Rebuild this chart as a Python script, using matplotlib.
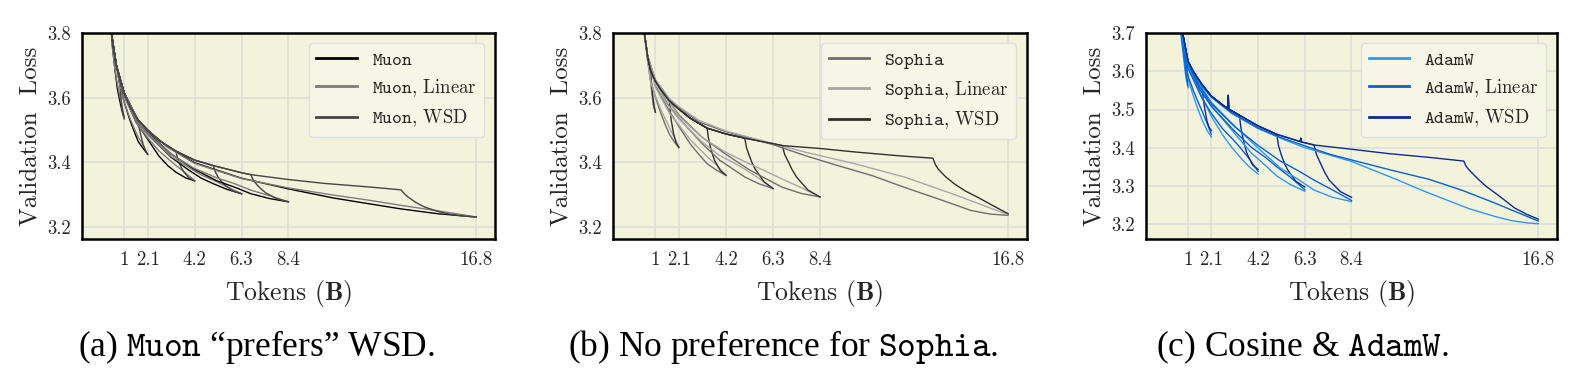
import matplotlib
matplotlib.use("Agg")
import matplotlib.pyplot as plt
from matplotlib.lines import Line2D

plt.rcParams["font.family"] = "cmr10"
plt.rcParams["mathtext.fontset"] = "cm"
plt.rcParams["axes.formatter.use_mathtext"] = True

# tokens (B) and the runs' lengths
run_lengths = [1.05, 2.1, 4.2, 6.3, 8.4, 16.8]
tick_labels = ["1", "2.1", "4.2", "6.3", "8.4", "16.8"]

# ---------------- Muon ----------------
# constant-LR part shared by the WSD runs
muon_trunk = [(0.35, 4.00), (0.48, 3.80), (0.60, 3.742), (0.70, 3.70), (0.84, 3.665), (1.05, 3.615),
              (1.30, 3.575), (1.68, 3.530), (2.10, 3.500), (2.60, 3.468), (3.36, 3.435), (4.20, 3.407),
              (5.04, 3.390), (6.30, 3.368), (6.72, 3.362), (8.40, 3.347), (10.0, 3.335), (12.0, 3.324),
              (13.44, 3.315)]
muon_wsd_tail = [
    [(0.84, 3.665), (0.88, 3.620), (0.92, 3.590), (0.97, 3.563), (1.05, 3.540)],
    [(1.68, 3.530), (1.73, 3.505), (1.78, 3.488), (1.90, 3.455), (2.00, 3.437), (2.10, 3.425)],
    [(3.36, 3.435), (3.43, 3.415), (3.50, 3.400), (3.60, 3.385), (3.70, 3.372), (3.95, 3.352), (4.20, 3.343)],
    [(5.04, 3.390), (5.13, 3.370), (5.25, 3.355), (5.40, 3.341), (5.55, 3.330), (5.90, 3.312), (6.30, 3.303)],
    [(6.72, 3.362), (6.82, 3.346), (7.00, 3.330), (7.20, 3.316), (7.40, 3.305), (7.90, 3.287), (8.40, 3.278)],
    [(13.44, 3.315), (13.60, 3.302), (13.75, 3.293), (14.10, 3.276), (14.49, 3.262), (15.00, 3.250),
     (15.52, 3.241), (16.10, 3.235), (16.80, 3.231)],
]
muon_cosine = [
    [(0.35, 4.0), (0.50, 3.775), (0.63, 3.690), (0.74, 3.630), (0.84, 3.595), (0.95, 3.560), (1.05, 3.535)],
    [(0.35, 4.0), (0.50, 3.785), (0.84, 3.646), (1.05, 3.587), (1.30, 3.532), (1.50, 3.495), (1.68, 3.464),
     (1.90, 3.443), (2.10, 3.425)],
    [(0.35, 4.0), (0.48, 3.80), (0.70, 3.70), (1.05, 3.607), (1.58, 3.525), (2.10, 3.472), (2.60, 3.420),
     (3.00, 3.390), (3.36, 3.370), (3.80, 3.352), (4.20, 3.343)],
    [(0.35, 4.0), (0.48, 3.80), (0.70, 3.70), (1.05, 3.615), (1.58, 3.532), (2.10, 3.487), (3.15, 3.416),
     (3.90, 3.378), (4.50, 3.351), (5.04, 3.334), (5.67, 3.316), (6.30, 3.303)],
    [(0.35, 4.0), (0.48, 3.80), (0.70, 3.70), (1.05, 3.615), (1.58, 3.540), (2.10, 3.492), (3.15, 3.426),
     (4.20, 3.378), (5.20, 3.343), (6.00, 3.323), (6.72, 3.303), (7.56, 3.288), (8.40, 3.278)],
    [(0.35, 4.0), (0.48, 3.80), (0.70, 3.70), (1.05, 3.615), (1.68, 3.530), (2.10, 3.500), (3.00, 3.448),
     (4.20, 3.399), (6.30, 3.351), (8.40, 3.318), (10.4, 3.290), (12.0, 3.272), (13.44, 3.256),
     (15.1, 3.241), (16.8, 3.231)],
]
muon_linear = [
    [(0.35, 4.0), (0.50, 3.770), (0.63, 3.692), (0.74, 3.644), (0.84, 3.610), (0.95, 3.574), (1.05, 3.535)],
    [(0.35, 4.0), (0.50, 3.779), (0.84, 3.642), (1.05, 3.586), (1.30, 3.538), (1.50, 3.505), (1.68, 3.478),
     (1.90, 3.453), (2.10, 3.425)],
    [(0.35, 4.0), (0.48, 3.80), (0.70, 3.70), (1.05, 3.605), (1.58, 3.523), (2.10, 3.476), (2.60, 3.436),
     (3.00, 3.412), (3.36, 3.391), (3.80, 3.367), (4.20, 3.343)],
    [(0.35, 4.0), (0.48, 3.80), (0.70, 3.70), (1.05, 3.612), (1.58, 3.530), (2.10, 3.486), (3.15, 3.418),
     (3.90, 3.386), (4.50, 3.361), (5.04, 3.345), (5.67, 3.324), (6.30, 3.303)],
    [(0.35, 4.0), (0.48, 3.80), (0.70, 3.70), (1.05, 3.613), (1.58, 3.535), (2.10, 3.490), (3.15, 3.425),
     (4.20, 3.381), (5.20, 3.352), (6.00, 3.334), (6.72, 3.314), (7.56, 3.297), (8.40, 3.278)],
    [(0.35, 4.0), (0.48, 3.80), (0.70, 3.70), (1.05, 3.615), (1.68, 3.530), (2.10, 3.500), (3.00, 3.446),
     (4.20, 3.397), (6.30, 3.350), (8.40, 3.321), (10.4, 3.299), (12.0, 3.283), (13.44, 3.267),
     (15.1, 3.250), (16.8, 3.231)],
]

# ---------------- Sophia ----------------
sophia_trunk = [(0.40, 4.00), (0.56, 3.80), (0.70, 3.73), (0.84, 3.685), (1.05, 3.652), (1.30, 3.625),
                (1.68, 3.590), (2.10, 3.565), (2.60, 3.537), (3.36, 3.506), (4.20, 3.488), (5.04, 3.475),
                (6.30, 3.458), (6.72, 3.452), (8.40, 3.443), (10.0, 3.432), (12.0, 3.420), (13.44, 3.413)]
sophia_wsd_tail = [
    [(0.84, 3.685), (0.87, 3.650), (0.90, 3.625), (0.96, 3.590), (1.00, 3.570), (1.05, 3.555)],
    [(1.68, 3.590), (1.72, 3.555), (1.76, 3.530), (1.86, 3.490), (1.98, 3.460), (2.10, 3.446)],
    [(3.36, 3.506), (3.42, 3.475), (3.50, 3.450), (3.60, 3.425), (3.70, 3.405), (3.95, 3.375), (4.20, 3.360)],
    [(5.04, 3.475), (5.12, 3.445), (5.25, 3.420), (5.37, 3.398), (5.50, 3.380), (5.90, 3.340), (6.30, 3.319)],
    [(6.72, 3.452), (6.82, 3.425), (7.00, 3.400), (7.15, 3.378), (7.35, 3.355), (7.85, 3.315), (8.40, 3.293)],
    [(13.44, 3.413), (13.55, 3.393), (13.68, 3.379), (14.00, 3.356), (14.41, 3.333), (14.90, 3.311),
     (15.44, 3.292), (16.10, 3.267), (16.80, 3.241)],
]
sophia_cosine = [
    [(0.40, 4.0), (0.56, 3.80), (0.70, 3.72), (0.84, 3.65), (0.95, 3.58), (1.05, 3.555)],
    [(0.40, 4.0), (0.56, 3.80), (0.84, 3.655), (1.05, 3.602), (1.30, 3.551), (1.50, 3.515), (1.68, 3.487),
     (1.90, 3.463), (2.10, 3.446)],
    [(0.40, 4.0), (0.56, 3.80), (0.70, 3.73), (1.05, 3.637), (1.68, 3.558), (2.10, 3.511), (2.60, 3.458),
     (3.00, 3.424), (3.36, 3.396), (3.80, 3.375), (4.20, 3.360)],
    [(0.40, 4.0), (0.56, 3.80), (0.70, 3.73), (1.05, 3.652), (1.58, 3.583), (2.10, 3.537), (3.15, 3.457),
     (3.90, 3.408), (4.50, 3.380), (5.04, 3.355), (5.67, 3.334), (6.30, 3.319)],
    [(0.40, 4.0), (0.56, 3.80), (0.70, 3.73), (1.05, 3.652), (1.58, 3.597), (2.10, 3.547), (3.15, 3.477),
     (4.20, 3.425), (5.20, 3.379), (6.00, 3.349), (6.72, 3.323), (7.56, 3.304), (8.40, 3.293)],
    [(0.40, 4.0), (0.56, 3.80), (0.70, 3.73), (1.05, 3.655), (1.68, 3.595), (2.10, 3.570), (3.00, 3.525),
     (4.20, 3.495), (6.30, 3.455), (7.78, 3.420), (9.20, 3.390), (10.73, 3.359), (12.2, 3.322),
     (13.68, 3.287), (15.15, 3.251), (16.0, 3.240), (16.8, 3.236)],
]
sophia_linear = [
    [(0.40, 4.0), (0.56, 3.79), (0.70, 3.715), (0.84, 3.652), (0.95, 3.597), (1.05, 3.555)],
    [(0.40, 4.0), (0.56, 3.80), (0.84, 3.649), (1.05, 3.606), (1.30, 3.563), (1.50, 3.533), (1.68, 3.507),
     (1.90, 3.477), (2.10, 3.446)],
    [(0.40, 4.0), (0.56, 3.80), (0.70, 3.73), (1.05, 3.633), (1.68, 3.552), (2.10, 3.516), (2.60, 3.471),
     (3.00, 3.443), (3.36, 3.418), (3.80, 3.391), (4.20, 3.360)],
    [(0.40, 4.0), (0.56, 3.80), (0.70, 3.73), (1.05, 3.650), (1.58, 3.579), (2.10, 3.535), (3.15, 3.462),
     (3.90, 3.422), (4.50, 3.401), (5.04, 3.379), (5.67, 3.351), (6.30, 3.319)],
    [(0.40, 4.0), (0.56, 3.80), (0.70, 3.73), (1.05, 3.652), (1.58, 3.597), (2.10, 3.543), (3.15, 3.476),
     (4.20, 3.431), (5.20, 3.397), (6.00, 3.372), (6.72, 3.348), (7.56, 3.322), (8.40, 3.293)],
    [(0.40, 4.0), (0.56, 3.80), (0.70, 3.73), (1.05, 3.656), (1.68, 3.597), (2.10, 3.572), (3.00, 3.530),
     (4.20, 3.497), (6.30, 3.458), (7.78, 3.431), (10.0, 3.395), (12.2, 3.354), (14.5, 3.298),
     (16.8, 3.238)],
]

# ---------------- AdamW ----------------
adamw_trunk = [(0.60, 3.95), (0.80, 3.70), (0.84, 3.69), (1.05, 3.626), (1.30, 3.598), (1.68, 3.565),
               (2.10, 3.535), (2.60, 3.512), (2.84, 3.503), (2.86, 3.537), (2.88, 3.501), (3.36, 3.485),
               (4.20, 3.457), (5.04, 3.435), (6.10, 3.416), (6.12, 3.425), (6.14, 3.415), (6.30, 3.413),
               (6.72, 3.407), (8.40, 3.396), (10.0, 3.385), (12.0, 3.374), (13.45, 3.365)]
adamw_wsd_tail = [
    [(0.84, 3.690), (0.92, 3.655), (0.95, 3.630), (0.98, 3.610), (1.05, 3.575)],
    [(1.68, 3.565), (1.72, 3.535), (1.78, 3.510), (1.90, 3.470), (2.00, 3.453), (2.10, 3.445)],
    [(3.36, 3.485), (3.42, 3.455), (3.50, 3.430), (3.60, 3.405), (3.70, 3.385), (3.95, 3.355), (4.20, 3.343)],
    [(5.04, 3.435), (5.12, 3.405), (5.25, 3.380), (5.40, 3.357), (5.55, 3.340), (5.90, 3.312), (6.30, 3.297)],
    [(6.72, 3.407), (6.82, 3.383), (7.00, 3.360), (7.20, 3.335), (7.40, 3.315), (7.90, 3.285), (8.40, 3.270)],
    [(13.45, 3.365), (13.55, 3.352), (13.67, 3.343), (13.90, 3.329), (14.11, 3.317), (14.45, 3.299),
     (14.85, 3.282), (15.30, 3.262), (15.74, 3.242), (16.30, 3.225), (16.80, 3.213)],
]
adamw_cosine = [
    [(0.60, 3.88), (0.72, 3.70), (0.84, 3.640), (0.95, 3.585), (1.05, 3.557)],
    [(0.60, 3.92), (0.78, 3.70), (0.84, 3.663), (1.05, 3.581), (1.30, 3.534), (1.50, 3.500), (1.68, 3.473),
     (1.90, 3.446), (2.10, 3.428)],
    [(0.60, 3.93), (0.79, 3.70), (1.05, 3.611), (1.68, 3.533), (2.10, 3.482), (2.60, 3.434), (3.00, 3.402),
     (3.36, 3.377), (3.80, 3.350), (4.20, 3.331)],
    [(0.60, 3.93), (0.79, 3.70), (1.05, 3.622), (1.58, 3.555), (2.10, 3.510), (3.15, 3.437), (3.90, 3.386),
     (4.50, 3.355), (5.04, 3.326), (5.67, 3.303), (6.30, 3.286)],
    [(0.60, 3.93), (0.79, 3.70), (1.05, 3.624), (1.58, 3.565), (2.10, 3.519), (3.15, 3.456), (4.20, 3.399),
     (5.20, 3.347), (6.00, 3.317), (6.72, 3.289), (7.56, 3.270), (8.40, 3.259)],
    [(0.60, 3.93), (0.75, 3.70), (1.05, 3.622), (1.68, 3.560), (2.10, 3.532), (3.00, 3.490), (4.20, 3.450),
     (5.50, 3.418), (6.30, 3.400), (7.47, 3.380), (8.40, 3.364), (10.42, 3.317), (11.5, 3.290),
     (12.64, 3.264), (13.7, 3.240), (14.85, 3.220), (15.6, 3.209), (16.33, 3.203), (16.8, 3.201)],
]
adamw_linear = [
    [(0.60, 3.90), (0.74, 3.70), (0.84, 3.655), (0.95, 3.600), (1.05, 3.562)],
    [(0.60, 3.92), (0.78, 3.70), (0.84, 3.660), (1.05, 3.588), (1.30, 3.548), (1.50, 3.520), (1.68, 3.496),
     (1.90, 3.465), (2.10, 3.435)],
    [(0.60, 3.93), (0.79, 3.70), (1.05, 3.608), (1.68, 3.529), (2.10, 3.490), (2.60, 3.450), (3.00, 3.426),
     (3.36, 3.403), (3.80, 3.371), (4.20, 3.338)],
    [(0.60, 3.93), (0.79, 3.70), (1.05, 3.620), (1.58, 3.552), (2.10, 3.508), (3.15, 3.443), (3.90, 3.401),
     (4.50, 3.376), (5.04, 3.350), (5.67, 3.322), (6.30, 3.290)],
    [(0.60, 3.93), (0.79, 3.70), (1.05, 3.622), (1.58, 3.560), (2.10, 3.515), (3.15, 3.455), (4.20, 3.406),
     (5.20, 3.365), (6.00, 3.340), (6.72, 3.315), (7.56, 3.289), (8.40, 3.262)],
    [(0.60, 3.90), (0.77, 3.70), (1.05, 3.624), (1.68, 3.562), (2.10, 3.533), (3.00, 3.492), (4.20, 3.452),
     (5.20, 3.427), (6.30, 3.405), (7.47, 3.382), (8.40, 3.368), (10.0, 3.344), (11.9, 3.317),
     (13.4, 3.288), (14.85, 3.255), (15.8, 3.232), (16.8, 3.208)],
]

TEXT = "#262626"
BG = "#f3f3dc"


def draw_panel(ax, name, trunk, cosine, linear, wsd_tail, colors, ylim, yticks):
    for cos_run, lin_run, tail in zip(cosine, linear, wsd_tail):
        ax.plot(*zip(*cos_run), color=colors[0], lw=1.0)
        ax.plot(*zip(*lin_run), color=colors[1], lw=1.0)
        wsd_run = [p for p in trunk if p[0] < tail[0][0]] + tail
        ax.plot(*zip(*wsd_run), color=colors[2], lw=1.0)

    ax.set_facecolor(BG)
    ax.set_xlim(-0.84, 17.64)
    ax.set_ylim(*ylim)
    ax.set_xticks(run_lengths)
    ax.set_xticklabels(tick_labels)
    ax.set_yticks(yticks)
    ax.set_yticklabels(["%.1f" % t for t in yticks])
    ax.grid(True, color="#dcdcdc", lw=1.1)
    ax.set_axisbelow(True)
    ax.tick_params(length=0, labelsize=13.5, colors=TEXT)
    ax.tick_params(axis="x", pad=9)
    ax.tick_params(axis="y", pad=8)
    for s in ax.spines.values():
        s.set_linewidth(1.8)
        s.set_color("black")
    ax.set_xlabel(r"Tokens ($\mathbf{B}$)", fontsize=18.5, color=TEXT, labelpad=6)
    ax.set_ylabel("Validation  Loss", fontsize=18, color=TEXT, labelpad=4)

    tt = r"$\mathtt{%s}$" % name
    handles = [Line2D([], [], color=colors[0], lw=2),
               Line2D([], [], color=colors[1], lw=2),
               Line2D([], [], color=colors[2], lw=2)]
    labels = [tt, tt + ", Linear", tt + ", WSD"]
    leg = ax.legend(handles, labels, loc="upper right", fontsize=13.5, frameon=True,
                    fancybox=True, framealpha=1.0, facecolor="#f6f6e6", edgecolor="#dedede",
                    handlelength=2.15, labelspacing=0.45, borderpad=0.4, borderaxespad=0,
                    bbox_to_anchor=(0.973, 0.951))
    for t in leg.get_texts():
        t.set_color(TEXT)


fig = plt.figure(figsize=(15.91, 3.75), dpi=100)
ax1 = fig.add_axes([0.0515, 0.3627, 0.2596, 0.549])
ax2 = fig.add_axes([0.3853, 0.3627, 0.2602, 0.549])
ax3 = fig.add_axes([0.7203, 0.3627, 0.2583, 0.549])

draw_panel(ax1, "Muon", muon_trunk, muon_cosine, muon_linear, muon_wsd_tail,
           ["#000000", "#7c7c7c", "#454545"], (3.163, 3.8), [3.2, 3.4, 3.6, 3.8])
draw_panel(ax2, "Sophia", sophia_trunk, sophia_cosine, sophia_linear, sophia_wsd_tail,
           ["#6e6e6e", "#a6a6a6", "#303030"], (3.163, 3.8), [3.2, 3.4, 3.6, 3.8])
draw_panel(ax3, "AdamW", adamw_trunk, adamw_cosine, adamw_linear, adamw_wsd_tail,
           ["#2f98ee", "#0862cc", "#0c2c8e"], (3.161, 3.7), [3.2, 3.3, 3.4, 3.5, 3.6, 3.7])

cap = dict(fontsize=25.5, family=["Liberation Serif", "DejaVu Serif"], ha="center", va="center",
           color="black")
fig.text(256 / 1591, 0.075, r"(a) $\mathtt{Muon}$ “prefers” WSD.", **cap)
fig.text(783 / 1591, 0.075, r"(b) No preference for $\mathtt{Sophia}$.", **cap)
fig.text(1303 / 1591, 0.075, r"(c) Cosine & $\mathtt{AdamW}$.", **cap)

fig.savefig("out.png", dpi=100)
